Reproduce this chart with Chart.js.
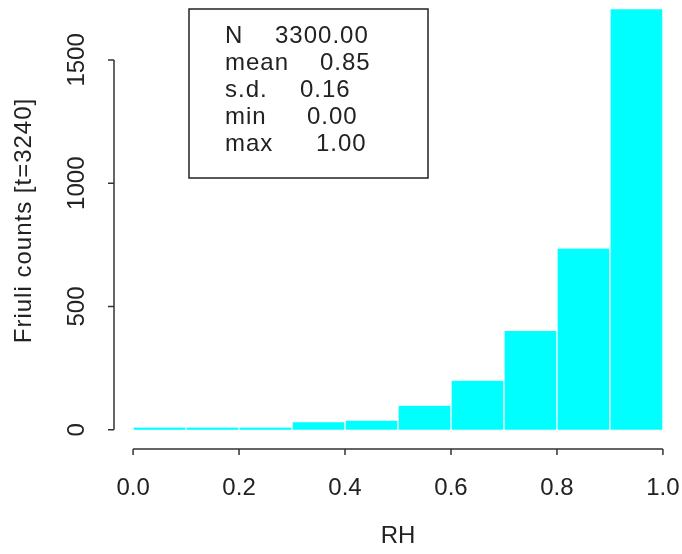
<!DOCTYPE html>
<html>
<head>
<meta charset="utf-8">
<title>RH histogram</title>
<script src="https://cdn.jsdelivr.net/npm/chart.js@4.4.1/dist/chart.umd.min.js"></script>
<style>
  html, body { margin: 0; padding: 0; background: #fff; }
  #wrap { position: relative; width: 682px; height: 554px; }
</style>
</head>
<body>
<div id="wrap"><canvas id="histChart"></canvas></div>
<script>
// bin centres (RH, width 0.1) and counts per bin
const binMids = [0.05, 0.15, 0.25, 0.35, 0.45, 0.55, 0.65, 0.75, 0.85, 0.95];
const counts = [9, 9, 9, 30, 37, 97, 199, 401, 735, 1705];

const xTicks = [0.0, 0.2, 0.4, 0.6, 0.8, 1.0];
const yTicks = [0, 500, 1000, 1500];

const xTitle = 'RH';
const yTitle = 'Friuli counts [t=3240]';

const statNames = ['N', 'mean', 's.d.', 'min', 'max'];
const statValues = ['3300.00', '0.85', '0.16', '0.00', '1.00'];

const FONT = '24px "Liberation Sans", Arial, sans-serif';
const INK = '#222';

// axes drawn R-style: detached from the plot region, only spanning the tick range
const rAxes = {
    id: 'rAxes',
    afterDraw(chart) {
        const ctx = chart.ctx;
        const x = chart.scales.x, y = chart.scales.y;
        const area = chart.chartArea;
        ctx.save();
        ctx.strokeStyle = '#333';
        ctx.lineWidth = 1.5;
        ctx.fillStyle = INK;
        ctx.font = FONT;

        // x axis
        const ax = area.bottom;
        const x0 = x.getPixelForValue(xTicks[0]);
        const x1 = x.getPixelForValue(xTicks[xTicks.length - 1]);
        ctx.beginPath();
        ctx.moveTo(x0, ax); ctx.lineTo(x1, ax);
        xTicks.forEach(function (t) {
            const px = x.getPixelForValue(t);
            ctx.moveTo(px, ax); ctx.lineTo(px, ax + 6);
        });
        ctx.stroke();
        ctx.textAlign = 'center';
        ctx.textBaseline = 'middle';
        xTicks.forEach(function (t) {
            ctx.fillText(t.toFixed(1), x.getPixelForValue(t), 488);
        });
        ctx.fillText(xTitle, (x0 + x1) / 2, 536);

        // y axis
        const ay = area.left;
        const y0 = y.getPixelForValue(yTicks[0]);
        const y1 = y.getPixelForValue(yTicks[yTicks.length - 1]);
        ctx.beginPath();
        ctx.moveTo(ay, y0); ctx.lineTo(ay, y1);
        yTicks.forEach(function (t) {
            const py = y.getPixelForValue(t);
            ctx.moveTo(ay, py); ctx.lineTo(ay - 6, py);
        });
        ctx.stroke();
        yTicks.forEach(function (t) {
            ctx.save();
            ctx.translate(77, y.getPixelForValue(t));
            ctx.rotate(-Math.PI / 2);
            ctx.fillText(String(t), 0, 0);
            ctx.restore();
        });
        ctx.save();
        ctx.translate(24, (area.top + area.bottom) / 2 - 4);
        ctx.rotate(-Math.PI / 2);
        ctx.letterSpacing = '1px';
        ctx.fillText(yTitle, 0, 0);
        ctx.restore();

        // summary box
        ctx.lineWidth = 1.5;
        ctx.strokeStyle = '#222';
        ctx.strokeRect(189, 9, 239, 169);
        const valueX = [275, 320, 300, 307, 316];
        ctx.textAlign = 'left';
        ctx.letterSpacing = '1px';
        statNames.forEach(function (name, i) {
            const row = 36 + i * 27;
            ctx.fillText(name, 225, row);
            ctx.fillText(statValues[i], valueX[i], row);
        });
        ctx.restore();
    }
};

new Chart(document.getElementById('histChart').getContext('2d'), {
    type: 'bar',
    data: {
        datasets: [{
            data: binMids.map(function (m, i) { return { x: m, y: counts[i] }; }),
            backgroundColor: '#00ffff',
            borderColor: '#ffffff',
            borderWidth: { left: 1, right: 1, top: 0, bottom: 0 },
            borderSkipped: false,
            barPercentage: 1.0,
            categoryPercentage: 1.0
        }]
    },
    options: {
        responsive: true,
        maintainAspectRatio: false,
        animation: false,
        layout: { padding: { left: 114, right: 0, top: 0, bottom: 105 } },
        plugins: { legend: { display: false }, tooltip: { enabled: false } },
        scales: {
            x: { type: 'linear', min: -0.036, max: 1.036, offset: false, display: false },
            y: { min: -78, max: 1743, display: false }
        }
    },
    plugins: [rAxes]
});
</script>
</body>
</html>
